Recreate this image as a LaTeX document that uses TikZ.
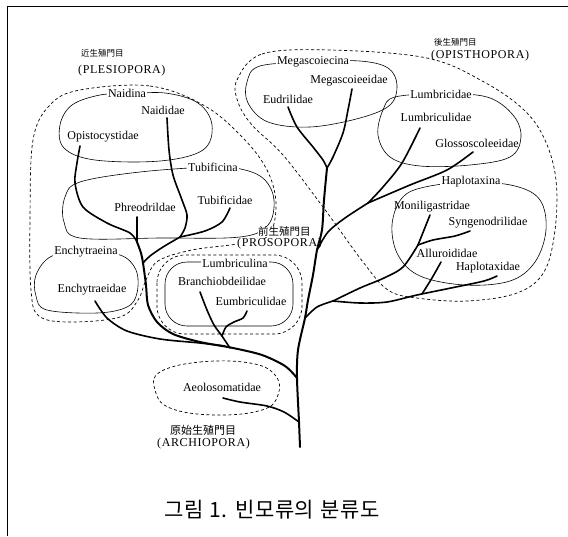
\documentclass[tikz,border=0pt]{standalone}
\usepackage{fontspec}
\setmainfont{Liberation Serif}
\newfontfamily\cjk{Noto Sans CJK KR}
\usetikzlibrary{positioning}

\begin{document}
\begin{tikzpicture}
[x=1pt,y=-1pt,
 branch/.style={line width=1.6pt,line cap=round,line join=round},
 trunk/.style={line width=2pt,line cap=round,line join=round},
 loop/.style={line width=0.6pt},
 order/.style={line width=0.7pt,dash pattern=on 3pt off 2.5pt},
 taxon/.style={font=\fontsize{12}{12}\selectfont,inner sep=1pt},
 group/.style={taxon,fill=white,inner sep=1.5pt},
 rank/.style={font=\fontsize{12}{12}\selectfont\addfontfeature{LetterSpace=5},inner sep=0pt,anchor=west},
 hanja/.style={font=\cjk\fontsize{8.5}{9}\selectfont,inner sep=0pt,anchor=west},]
\useasboundingbox (0,0) rectangle (568,536);

%Frame
\draw[line width=1pt] (7,536) -- (7,6) -- (568,6);

%Orders (dashed)
\draw[order] plot[smooth cycle,tension=0.6] coordinates {(80,90) (150,86) (205,106) (245,140) (268,172) (276,205) (268,236) (237,244) (192,250) (158,261) (146,280) (138,300) (120,317) (70,322) (39,316) (31,290) (30,220) (33,140) (50,105)};
\draw[order,rounded corners=28pt] (157,255) rectangle (302,334);
\draw[order] plot[smooth cycle,tension=0.6] coordinates {(237,80) (262,54) (330,50) (427,58) (484,82) (524,110) (545,140) (556,180) (555,230) (544,272) (517,293) (467,301) (417,298) (388,290) (363,262) (323,207) (283,155) (252,125) (238,102)};
\draw[order] plot[smooth cycle,tension=0.7] coordinates {(160,372) (200,362) (250,363) (275,375) (278,395) (262,410) (215,415) (170,408) (155,390)};

%Suborders (solid)
\draw[loop] plot[smooth cycle,tension=0.6] coordinates {(100,95) (127,94) (165,93) (198,103) (212,125) (203,150) (160,161) (95,160) (64,148) (60,125) (72,105)};
\draw[loop] plot[smooth cycle,tension=0.6] coordinates {(80,182) (140,172) (213,167) (245,170) (265,180) (274,200) (268,225) (240,237) (160,238) (80,238) (64,222) (65,197)};
\draw[loop] plot[smooth cycle,tension=0.6] coordinates {(52,256) (85,253) (120,255) (136,270) (137,293) (127,307) (97,313) (47,310) (36,296) (36,275)};
\draw[loop,rounded corners=22pt] (165,262) rectangle (293,326);
\draw[loop] plot[smooth cycle,tension=0.6] coordinates {(260,66) (313,62) (360,61) (388,68) (397,85) (390,105) (360,118) (310,127) (268,122) (248,103) (247,82)};
\draw[loop] plot[smooth cycle,tension=0.6] coordinates {(395,97) (441,94) (487,97) (513,115) (521,137) (510,157) (470,165) (420,166) (390,157) (378,135) (383,110)};
\draw[loop] plot[smooth cycle,tension=0.6] coordinates {(425,187) (471,182) (515,186) (540,200) (546,230) (535,262) (510,281) (465,285) (420,276) (398,255) (392,225) (402,198)};

%Suborder names
\node[group] (naidina) at (127,93) {Naidina};
\node[group] (tubificina) at (213,167) {Tubificina};
\node[group] (enchytraeina) at (86,252) {Enchytraeina};
\node[group] (lumbriculina) at (235,263) {Lumbriculina};
\node[group] (megascoiecina) at (313,62) {Megascoiecina};
\node[group] (lumbricidae) at (441,94) {Lumbricidae};
\node[group] (haplotaxina) at (471,182) {Haplotaxina};

%Order names
\node[hanja,fill=white] (plesioH) at (81,53) {近生殖門目};
\node[rank] (plesio) at (78,71) {(PLESIOPORA)};
\node[hanja,fill=white] (opisthoH) at (434,42) {後生殖門目};
\node[rank] (opistho) at (431,56) {(OPISTHOPORA)};
\node[hanja,fill=white,font=\cjk\fontsize{10.5}{11}\selectfont] (prosoH) at (258,232) {前生殖門目};
\node[rank,fill=white] (proso) at (237,244) {(PROSOPORA)};
\node[hanja,font=\cjk\fontsize{11}{11}\selectfont] (archioH) at (170,430) {原始生殖門目};
\node[rank] (archio) at (157,444) {(ARCHIOPORA)};

%Junctions
\coordinate (root) at (300,447);
\coordinate (jAeo) at (299,422);
\coordinate (jLeft) at (297,378);
\coordinate (jHap) at (305,318);
\coordinate (jRight) at (317,250);
\coordinate (jMeg) at (327,168);
\coordinate (jLum) at (368,203);
\coordinate (jHap2) at (333,301);
\coordinate (jMon) at (418,245);
\coordinate (jPhr) at (137,242);
\coordinate (jNai) at (143,263);
\coordinate (jTub) at (180,237);
\coordinate (jBra) at (222,336);

%Main trunk
\draw[trunk] plot[smooth,tension=0.5] coordinates {(root) (jAeo) (jLeft) (298,350) (jHap) (308,300) (313,275) (jRight) (322,230) (324,200) (jMeg)};
\draw[branch] plot[smooth] coordinates {(288,107) (297,127) (313,147) (323,160) (jMeg)};
\draw[branch] plot[smooth] coordinates {(352,89) (348,110) (343,133) (333,157) (jMeg)};
\draw[branch] plot[smooth] coordinates {(jRight) (328,232) (345,218) (jLum)};
\draw[branch] plot[smooth] coordinates {(jLum) (383,187) (402,163) (420,128)};
\draw[branch] plot[smooth] coordinates {(jLum) (410,185) (447,170) (473,152)};
\draw[branch] plot[smooth] coordinates {(jHap) (317,307) (jHap2)};
\draw[branch] plot[smooth] coordinates {(jHap2) (360,288) (384,278) (403,267) (jMon)};
\draw[branch] plot[smooth] coordinates {(jMon) (424,230) (430,215)};
\draw[branch] plot[smooth] coordinates {(jMon) (433,240) (455,236) (470,231)};
\draw[branch] plot[smooth] coordinates {(jHap2) (360,303) (387,302) (417,295) (451,288) (484,281) (497,276)};
\draw[branch] plot[smooth] coordinates {(441,262) (432,278) (422,294)};
\draw[branch] plot[smooth] coordinates {(223,398) (240,402) (267,406) (284,412) (jAeo)};

%Left part
\draw[trunk] plot[smooth,tension=0.5] coordinates {(jPhr) (141,253) (jNai) (146,285) (148,305) (157,322) (173,334) (200,342) (233,348) (262,355) (285,366) (jLeft)};
\draw[branch] plot[smooth] coordinates {(80,146) (77,163) (75,183) (83,207) (107,223) (130,233) (jPhr)};
\draw[branch] (137,217) -- (jPhr);
\draw[branch] plot[smooth] coordinates {(167,118) (169,150) (173,175) (182,200) (187,215) (185,228) (jTub)};
\draw[branch] plot[smooth] coordinates {(230,208) (222,222) (205,231) (jTub)};
\draw[branch] plot[smooth] coordinates {(jTub) (163,247) (150,256) (jNai)};
\draw[branch] plot[smooth] coordinates {(95,301) (107,318) (127,331) (160,339) (200,343) (225,346)};
\draw[branch] plot[smooth] coordinates {(200,292) (207,310) (214,325) (jBra) (230,348)};
\draw[branch] plot[smooth] coordinates {(247,311) (243,318) (234,322) (226,327) (jBra)};

%Caption
\node[font=\cjk\fontsize{21}{21}\selectfont\addfontfeature{LetterSpace=3}] (caption) at (272,510) {그림 1.\hspace{8pt}빈모류의\hspace{6pt}분류도};

%Families
\node[taxon] (naididae) at (163,110) {Naididae};
\node[taxon] (opistocystidae) at (103,137) {Opistocystidae};
\node[taxon] (phreodrildae) at (145,207) {Phreodrildae};
\node[taxon] (tubificidae) at (225,200) {Tubificidae};
\node[taxon] (enchytraeidae) at (92,290) {Enchytraeidae};
\node[taxon] (branchiobd) at (222,281) {Branchiobdeilidae};
\node[taxon] (eumbriculidae) at (251,301) {Eumbriculidae};
\node[taxon] (aeolosomatidae) at (222,387) {Aeolosomatidae};
\node[taxon] (megascoieeidae) at (349,81) {Megascoieeidae};
\node[taxon] (eudrilidae) at (288,99) {Eudrilidae};
\node[taxon] (lumbriculidae) at (436,117) {Lumbriculidae};
\node[taxon] (glossoscoleeidae) at (477,143) {Glossoscoleeidae};
\node[taxon] (moniligastridae) at (432,207) {Moniligastridae};
\node[taxon] (syngenodrilidae) at (488,223) {Syngenodrilidae};
\node[taxon] (alluroididae) at (447,253) {Alluroididae};
\node[taxon] (haplotaxidae) at (488,268) {Haplotaxidae};
\end{tikzpicture}
\end{document}
